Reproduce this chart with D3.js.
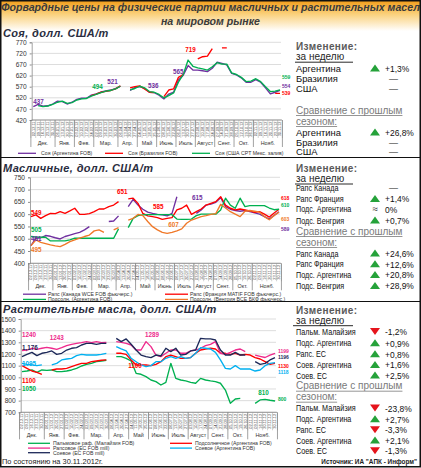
<!DOCTYPE html>
<html><head><meta charset="utf-8">
<script src="https://cdn.jsdelivr.net/npm/d3@7"></script>
<style>
body{margin:0;background:#fff;overflow:hidden}
svg{display:block}
text{font-family:"Liberation Sans",Arial,sans-serif}
</style>
</head><body>
<svg id="c" width="421" height="468"></svg>
<script>
// ---------- DATA ----------
const monthNames=["Дек.","Янв.","Фев.","Мар.","Апр.","Май","Июнь","Июль","Август","Сент.","Окт.","Нояб."];
const monthSizes=[5,4,4,5,4,4,4,4,4,4,4,6];
const weekDates=["02.12.11","09.12.11","16.12.11","23.12.11","30.12.11",
"06.01.12","13.01.12","20.01.12","27.01.12",
"03.02.12","10.02.12","17.02.12","24.02.12",
"02.03.12","09.03.12","16.03.12","23.03.12","30.03.12",
"06.04.12","13.04.12","20.04.12","27.04.12",
"04.05.12","11.05.12","18.05.12","25.05.12",
"01.06.12","08.06.12","15.06.12","22.06.12",
"06.07.12","13.07.12","20.07.12","27.07.12",
"03.08.12","10.08.12","17.08.12","24.08.12",
"07.09.12","14.09.12","21.09.12","28.09.12",
"05.10.12","12.10.12","19.10.12","26.10.12",
"02.11.12","09.11.12","16.11.12","20.11.12","23.11.12","30.11.12"];

// Soy
const soyTicks=[420,470,520,570,620,670,720,770];
const soyArgentina=[480,490,482,484,492,505,503,492,500,513,518,518,532,538,546,551,555,561,573,null,
553,566,570,562,545,543,532,515,537,545,600,622,665,645,645,642,638,653,680,675,668,630,623,610,590,590,602,590,565,538,545,553];
const soyBrazil=[null,null,null,null,null,null,null,null,null,null,null,null,530,537,545,549,553,560,574,null,
565,570,574,560,545,543,null,525,555,560,612,625,null,null,695,705,708,742,null,745,745,null,null,null,null,null,null,null,null,null,540,540];
const soyUSA=[null,485,480,483,490,500,505,495,498,510,515,517,528,535,543,550,553,560,572,null,
556,562,572,565,548,545,535,520,530,542,590,625,690,662,655,650,645,660,678,672,672,632,625,612,593,595,606,593,570,548,550,556];
const soyNames=["Соя (Аргентина  FOB)","Соя (Бразилия  FOB)","Соя (США  CPT Мекс. залив)"];
const soyNotes=[["437",0,502,0],["494",12.2,570,2],["521",15.3,592,0],["536",23.7,574,0],["565",28.9,635,0],["719",31.4,735,1]];
const soyEnds=[["559",615,2],["554",574,0],["539",540,1]];

// Oilseeds
const seedTicks=[400,450,500,550,600,650,700,750];
const rapeCanada=[472,502,504,513,510,504,499,509,515,521,526,536,549,null,null,null,570,572,593,null,
631,660,637,620,608,603,599,597,593,603,671,null,null,null,603,617,637,641,648,667,631,620,615,612,615,610,605,600,590,580,595,610];
const rapeFrance=[590,597,583,594,603,602,610,603,613,624,599,599,602,610,621,621,631,637,651,null,
662,665,644,603,593,590,586,579,583,586,617,624,637,599,610,621,637,644,651,671,637,624,617,621,617,613,607,610,600,588,605,620];
const sunArgentina=[509,507,506,506,491,491,491,491,495,502,502,502,502,502,502,502,502,502,540,null,
545,583,594,597,598,598,598,598,598,598,580,579,579,580,594,600,600,600,600,617,665,637,624,665,631,635,635,635,635,625,618,620];
const sunHungary=[472,495,485,480,475,471,468,477,488,495,502,509,515,532,536,526,null,536,545,null,
576,583,599,594,570,549,536,526,522,526,532,540,563,576,583,590,594,599,602,640,625,610,600,590,612,615,612,608,590,577,595,608];
const seedNames=["Рапс (Канада WCE FOB фьючерс.)","Рапс (Франция MATIF FOB фьючерс.)","Подсолн. (Аргентина  FOB)","Подсолн. (Венгрия  BCE  БКФ  фьючерс.)"];
const seedNotes=[["549",0,607,1],["505",0,535,2],["461",0,501,0],["495",0,454,3],["651",17.7,689,1],["585",25.1,628,1],["615",33.1,666,0],["607",28.2,556,3]];
const seedEnds=[["618",666,1],["610",637,2],["603",580,3],["589",540,0]];

// Vegetable oils
const oilTicks=[700,800,900,1000,1100,1200,1300,1400,1500];
const palmMalaysia=[1049,1054,1063,1043,1063,1060,1063,1049,1049,1054,1063,1077,1097,1111,1120,1134,1140,1146,null,
1177,1177,1163,1140,1034,1026,1006,977,963,934,957,1120,991,977,969,957,949,991,977,969,963,949,891,777,814,820,null,null,777,806,811,803,797];
const sunOilArgentina=[1100,1077,1054,1043,1026,null,1063,1071,1071,1077,1091,1106,1120,1120,1134,1140,1146,1149,null,
1206,1206,1197,1149,1106,1106,1106,1100,1111,1134,1177,1191,1177,1163,1163,1169,1206,1234,1243,1249,1243,1206,1206,1197,1206,1191,1197,1191,1169,1157,1134,1111,1120];
const rapeOilEU=[1230,1234,1249,1240,1249,1257,1249,1240,1254,1271,1283,1291,1297,1306,1297,1306,1297,1300,null,
1306,1300,1291,1277,1234,1234,1306,1263,1191,1177,1206,1234,1234,1206,1206,1226,1234,1249,1271,1283,1306,1206,1197,1214,1234,1243,1220,null,1190,1180,1170,1190,1205];
const soyOilArgentina=[1120,1111,1106,1100,1106,null,1106,1120,1149,1157,1163,1186,1197,1191,1191,1191,1197,1206,null,
1263,1243,1226,1163,1134,1106,1091,1100,1134,1134,1163,1177,1163,1177,1163,1169,1206,1254,1249,1243,1214,1149,1077,1071,1100,1071,1071,1071,1054,1063,1100,1120,1126];
const soyOilEU=[1177,1197,1214,1186,1206,1214,1226,1197,1206,1234,1249,1254,1277,1291,1291,1283,1291,1291,null,
1334,1306,1329,1283,1234,1191,1177,1169,1191,1183,1249,1220,1249,1191,1197,1226,1234,1334,1329,1329,1320,1234,1191,1191,1214,1191,1191,null,1134,1111,1120,1149,1169];
const oilNames=["Пальмовое раф. (Малайзия  FOB)","Подсолнечное (Аргентина  FOB)","Рапсовое (ЕС FOB mill)","Соевое (Аргентина  FOB)","Соевое (ЕС FOB mill)"];
const oilNotes=[["1240",0,1363,2],["1243",5.6,1340,2],["1289",24.8,1363,2],["1,176",0,1254,4],["1095",0,1114,3],["1100",0,968,1],["1050",0,900,0],["1100",21.4,1100,1],["810",47.6,866,0]];
const oilEnds=[["1199",1228,2],["1196",1172,4],["1130",1097,1],["1118",1048,3],["800",812,0]];

// Right-hand tables
const soyRows=["Аргентина","Бразилия","США"];
const soyWeek=["+1,3%","—","—"], soyWeekDir=["up","",""];
const soySeason=["+26,8%","—","—"], soySeasonDir=["up","",""];
const seedRows=["Рапс Канада","Рапс Франция","Подс. Аргентина","Подс. Венгрия"];
const seedWeek=["—","+1,4%","0%","+0,7%"], seedWeekDir=["","up","approx","up"];
const seedSeason=["+24,6%","+12,6%","+20,8%","+28,9%"], seedSeasonDir=["up","up","up","up"];
const oilRows=["Пальм. Малайзия","Подс. Аргентина","Рапс. ЕС","Соев. Аргентина","Соев. ЕС"];
const oilWeek=["-1,2%","+0,9%","+0,8%","+1,6%","+2,5%"], oilWeekDir=["down","up","up","up","up"];
const oilSeason=["-23,8%","+2,7%","-3,3%","+2,1%","-1,3%"], oilSeasonDir=["down","up","down","up","down"];

// ---------- DRAWING ----------
const W=421,H=468,N=weekDates.length;
const svg=d3.select("#c");
const defs=svg.append("defs");
const grad=defs.append("linearGradient").attr("id","tg").attr("x1",0).attr("y1",0).attr("x2",0).attr("y2",1);
[["0%","#f19a14"],["45%","#fad07a"],["100%","#ffffff"]].forEach(s=>grad.append("stop").attr("offset",s[0]).attr("stop-color",s[1]));
svg.append("rect").attr("x",0).attr("y",0).attr("width",W).attr("height",31).attr("fill","url(#tg)");
svg.append("text").attr("x",210.5).attr("y",10.8).attr("text-anchor","middle").attr("font-size",10.6).attr("font-weight","bold").attr("font-style","italic").attr("fill","#3b3b3b")
  .text("Форвардные цены на физические партии масличных и растительных масел");
svg.append("text").attr("x",210.5).attr("y",25).attr("text-anchor","middle").attr("font-size",10.6).attr("font-weight","bold").attr("font-style","italic").attr("fill","#3b3b3b")
  .text("на мировом рынке");

const monthStarts=[];{let s=0;monthSizes.forEach(m=>{monthStarts.push(s);s+=m;});}

function chart(c){
  const g=svg.append("g");
  const x=d3.scaleLinear().domain([0,N-1]).range([c.x0,c.x1]);
  const y=d3.scaleLinear().domain([c.ticks[0],c.ticks[c.ticks.length-1]]).range([c.yb,c.yt]);
  svg.append("text").attr("x",3).attr("y",c.hy).attr("font-size",11).attr("font-weight","bold").attr("font-style","italic")
    .attr("letter-spacing",0.35).attr("fill","#2a2d40").text(c.title);
  g.selectAll(".gr").data(c.ticks).join("line").attr("x1",c.ax).attr("x2",c.x1+1)
    .attr("y1",d=>y(d)).attr("y2",d=>y(d)).attr("stroke","#d4d4d4").attr("stroke-width",0.8);
  const ya=g.append("g").attr("transform",`translate(${c.ax},0)`)
    .call(d3.axisLeft(y).tickValues(c.ticks).tickSize(2).tickPadding(3).tickFormat(d3.format("d")));
  ya.select(".domain").attr("stroke","#8c8c8c").attr("stroke-width",0.8);
  ya.selectAll(".tick line").attr("stroke","#8c8c8c");
  ya.selectAll("text").attr("font-size",6.6).attr("fill","#333").attr("font-family","Liberation Sans, Arial, sans-serif");
  const ay=y(c.ticks[0]);
  g.append("line").attr("x1",c.ax).attr("x2",c.x1+2).attr("y1",ay).attr("y2",ay).attr("stroke","#8c8c8c").attr("stroke-width",0.9);
  g.selectAll(".sl").data(d3.range(N+1)).join("line")
    .attr("x1",i=>x(i-0.5)).attr("x2",i=>x(i-0.5)).attr("y1",ay).attr("y2",ay+18)
    .attr("stroke","#9a9a9a").attr("stroke-width",0.45);
  g.selectAll(".dl").data(weekDates).join("text")
    .attr("transform",(d,i)=>`translate(${x(i)+1.4},${ay+1.5}) rotate(-90)`)
    .attr("text-anchor","end").attr("font-size",3.9).attr("fill","#444").text(d=>d);
  const bounds=monthStarts.concat([N]);
  g.selectAll(".ms").data(bounds).join("line")
    .attr("x1",i=>x(i-0.5)).attr("x2",i=>x(i-0.5)).attr("y1",ay).attr("y2",ay+27)
    .attr("stroke","#7a7a7a").attr("stroke-width",0.7);
  g.selectAll(".ml").data(monthNames).join("text")
    .attr("x",(d,i)=>x((bounds[i]+bounds[i+1]-1)/2)).attr("y",ay+25).attr("text-anchor","middle")
    .attr("font-size",5.4).attr("fill","#333").text(d=>d);
  const line=d3.line().defined(d=>d!=null).x((d,i)=>x(i)).y(d=>y(d));
  c.series.forEach((s,k)=>{
    g.append("path").datum(s).attr("d",line).attr("fill","none").attr("stroke",c.colors[k])
      .attr("stroke-width",1.35).attr("stroke-linejoin","round");
  });
  g.selectAll(".nt").data(c.notes).join("text")
    .attr("x",d=>x(d[1])).attr("y",d=>y(d[2])+2.2).attr("font-size",6.3).attr("font-weight","bold")
    .attr("fill",d=>c.colors[d[3]]).text(d=>d[0]);
  g.selectAll(".en").data(c.ends).join("text")
    .attr("x",x(N-1)+c.endDx).attr("y",d=>y(d[1])+1.8).attr("font-size",5).attr("font-weight","bold")
    .attr("fill",d=>c.colors[d[2]]).text(d=>d[0]);
  c.legend.forEach(r=>{
    const lx=c.legX[r[1]], ly=c.legY[r[2]];
    g.append("line").attr("x1",lx).attr("x2",lx+c.legLen).attr("y1",ly).attr("y2",ly)
      .attr("stroke",c.colors[r[0]]).attr("stroke-width",1.3);
    g.append("text").attr("x",lx+c.legLen+c.legGap).attr("y",ly+1.8).attr("font-size",5.2).attr("fill","#333").text(c.names[r[0]]);
  });
}

chart({title:"Соя,  долл. США/т",hy:36.6,ticks:soyTicks,ax:31.7,x0:33.3,x1:280,yb:120,yt:42.3,
  series:[soyArgentina,soyBrazil,soyUSA],colors:["#7030a0","#ff0000","#00b050"],names:soyNames,
  notes:soyNotes,ends:soyEnds,endDx:2,
  legend:[[0,0,0],[1,1,0],[2,2,0]],legX:[18,105,192],legY:[153.3],legLen:18,legGap:5});

chart({title:"Масличные,  долл. США/т",hy:171.5,ticks:seedTicks,ax:30,x0:31,x1:279,yb:263.3,yt:177.3,
  series:[rapeCanada,rapeFrance,sunArgentina,sunHungary],colors:["#7030a0","#ff0000","#00b050","#f07828"],names:seedNames,
  notes:seedNotes,ends:seedEnds,endDx:2,
  legend:[[0,0,0],[1,1,0],[2,0,1],[3,1,1]],legX:[23,165],legY:[294.2,299.4],legLen:23,legGap:2});

chart({title:"Растительные масла,  долл. США/т",hy:313.4,ticks:oilTicks,ax:20.7,x0:22,x1:275,yb:412.3,yt:319,
  series:[palmMalaysia,sunOilArgentina,rapeOilEU,soyOilArgentina,soyOilEU],colors:["#00b050","#ff0000","#ee2a8c","#00b0f0","#1c2858"],names:oilNames,
  notes:oilNotes,ends:oilEnds,endDx:3,
  legend:[[0,0,0],[1,1,0],[2,0,1],[3,1,1],[4,0,2]],legX:[28,170],legY:[443.3,448.1,452.7],legLen:22,legGap:3});

// ---------- right tables ----------
function tri(x,cy,dir){
  const p=dir==="up"?`M${x},${cy+3.2}L${x+10},${cy+3.2}L${x+5},${cy-3.8}Z`:`M${x},${cy-3.4}L${x+10},${cy-3.4}L${x+5},${cy+3.6}Z`;
  svg.append("path").attr("d",p).attr("fill",dir==="up"?"#25a23a":"#e5141c");
}
function ntext(x,y,fs,sx,txt,fill,weight){
  const t=svg.append("text").attr("x",x).attr("y",y).attr("font-size",fs)
    .attr("font-weight",weight||"normal").attr("fill",fill||"#111").text(txt);
  if(sx!==1){const w=t.node().getComputedTextLength();t.attr("textLength",w*sx).attr("lengthAdjust","spacingAndGlyphs");}
  return t;
}
function table(t){
  svg.append("text").attr("x",296).attr("y",t.y0).attr("font-size",10).attr("font-weight","bold").attr("letter-spacing",0.4).attr("fill","#5a5a5a").text("Изменение:");
  svg.append("text").attr("x",296).attr("y",t.y0+10).attr("font-size",10).attr("fill","#262626").text("за неделю");
  svg.append("line").attr("x1",t.ulx).attr("x2",353).attr("y1",t.y0+12.2).attr("y2",t.y0+12.2).attr("stroke","#111").attr("stroke-width",0.9);
  const rows=(yy,vals,dirs)=>{
    t.rows.forEach((r,i)=>{
      const by=yy[i];
      ntext(296,by,t.lfs,t.lsx,r,"#111");
      const v=vals[i];
      if(dirs[i]==="up"||dirs[i]==="down") tri(370,by-3.3,dirs[i]);
      if(dirs[i]==="approx") svg.append("text").attr("x",372.5).attr("y",by).attr("font-size",9.5).attr("fill","#111").text("≈");
      if(v==="—") ntext(389,by,9,1,v,"#111");
      else ntext(385,by+0.4,9.6,0.88,v,"#111");
    });
  };
  rows(t.wy,t.week,t.weekDir);
  [["Сравнение с прошлым",t.sy],["сезоном:",t.sy+11]].forEach(s=>{
    const tx=svg.append("text").attr("x",296).attr("y",s[1]).attr("font-size",10).attr("fill","#7a7a7a").text(s[0]);
    const w=tx.node().getComputedTextLength();
    svg.append("line").attr("x1",296).attr("x2",296+w).attr("y1",s[1]+2).attr("y2",s[1]+2).attr("stroke","#7a7a7a").attr("stroke-width",0.8);
  });
  rows(t.ssy,t.season,t.seasonDir);
}
table({y0:50,ulx:295,rows:soyRows,lfs:9.4,lsx:1,wy:[71.5,81.5,91.5],week:soyWeek,weekDir:soyWeekDir,
  sy:113.5,ssy:[135.5,145.5,155.3],season:soySeason,seasonDir:soySeasonDir});
table({y0:171.8,ulx:295,rows:seedRows,lfs:9,lsx:0.8,wy:[191.3,202,212.3,223.7],week:seedWeek,weekDir:seedWeekDir,
  sy:234.5,ssy:[256.7,267.3,278,289],season:seedSeason,seasonDir:seedSeasonDir});
table({y0:313.5,ulx:293,rows:oilRows,lfs:9,lsx:0.8,wy:[334.7,346.3,357.3,368,378.7],week:oilWeek,weekDir:oilWeekDir,
  sy:389.2,ssy:[411.3,422.3,433,443.7,454],season:oilSeason,seasonDir:oilSeasonDir});

// footer, separators, border
svg.append("text").attr("x",2).attr("y",463.5).attr("font-size",7.4).attr("fill","#222").text("По состоянию на 30.11.2012г.");
svg.append("text").attr("x",417).attr("y",463.5).attr("text-anchor","end").attr("font-size",6.4).attr("font-weight","bold").attr("fill","#222").text("Источник: ИА \"АПК - Информ\"");
[157.5,301.5].forEach(yy=>svg.append("line").attr("x1",0).attr("x2",W).attr("y1",yy).attr("y2",yy).attr("stroke","#111").attr("stroke-width",1.2));
svg.append("rect").attr("x",0.75).attr("y",0.75).attr("width",W-1.5).attr("height",466).attr("fill","none").attr("stroke","#111").attr("stroke-width",1.5);
</script>
</body></html>
